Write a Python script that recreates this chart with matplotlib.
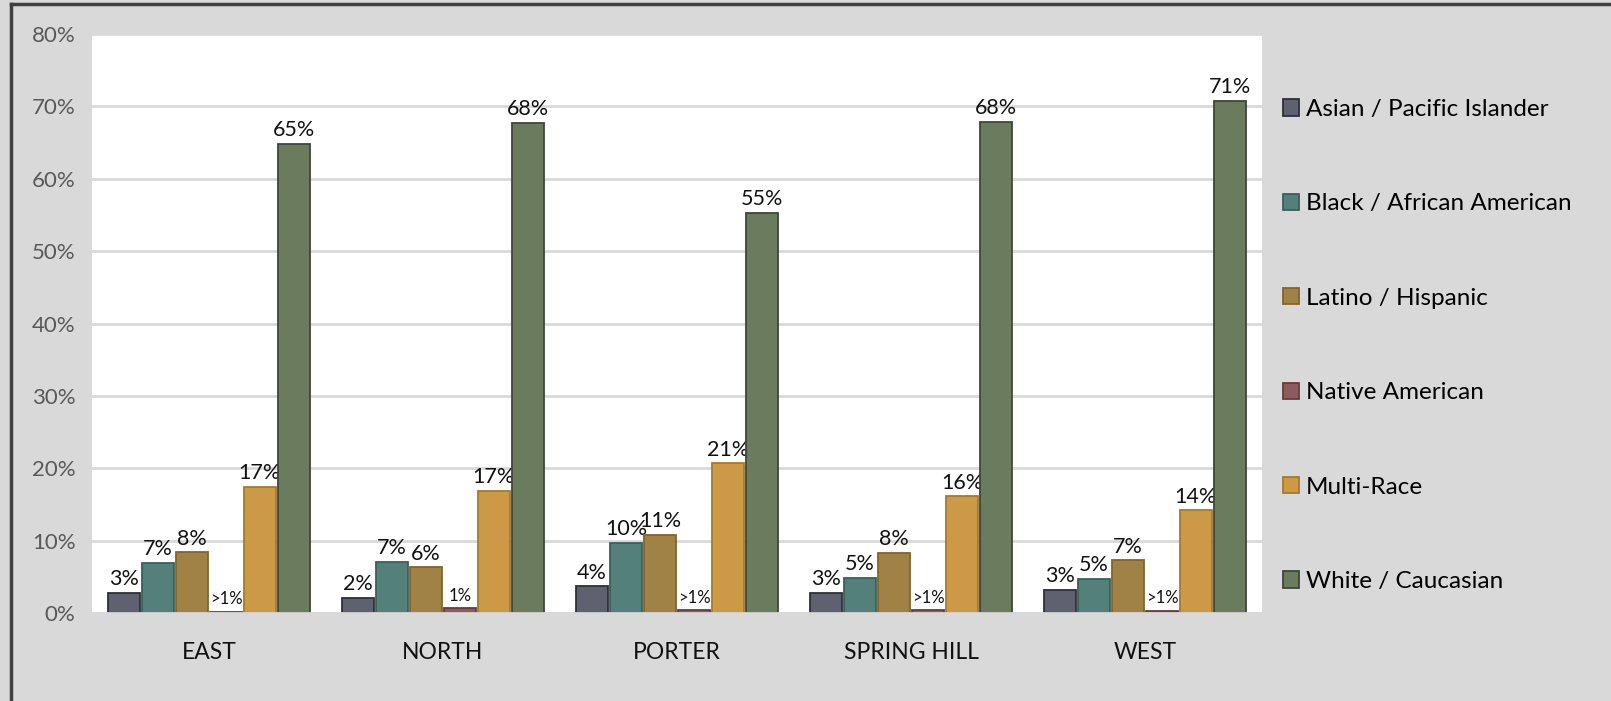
import matplotlib.pyplot as plt
import numpy as np
from matplotlib.lines import Line2D

# ------ dados

regioes = ["EAST", "NORTH", "PORTER", "SPRING HILL", "WEST"]
grupos = ["Asian / Pacific Islander", "Black / African American", "Latino / Hispanic",
          "Native American", "Multi-Race", "White / Caucasian"]

asian = [2.8, 2.1, 3.7, 2.8, 3.2]
black = [6.9, 7.1, 9.7, 4.9, 4.7]
latino = [8.4, 6.3, 10.8, 8.3, 7.3]
native = [0.2, 0.7, 0.4, 0.4, 0.3]
multi = [17.4, 16.9, 20.7, 16.1, 14.2]
white = [64.8, 67.7, 55.3, 67.9, 70.8]

rotulos_native = [">1%", "1%", ">1%", ">1%", ">1%"]

cores = ["#5f6070", "#538079", "#a08246", "#8e5a5d", "#cc9a47", "#6b7c5e"]
bordas = ["#2e2f38", "#3d5e59", "#826529", "#6a3b3e", "#a27a30", "#3e463a"]

series = [asian, black, latino, native, multi, white]

# ------ figura

plt.rcParams['font.family'] = ['Lato', 'DejaVu Sans']

fig = plt.figure(figsize=(16.11, 7.01), dpi=100, facecolor="#d9d9d9")
ax = fig.add_axes([92 / 1611, 1 - 613 / 701, (1262 - 92) / 1611, (613 - 34) / 701])
ax.set_facecolor("white")

x = np.arange(len(regioes))
largura = 0.145

for i, (vals, nome) in enumerate(zip(series, grupos)):
    pos = x + (i - 2.5) * largura
    ax.bar(pos, vals, width=largura - 0.006, color=cores[i], edgecolor=bordas[i],
           linewidth=1.3, label=nome, zorder=3)
    for j, v in enumerate(vals):
        if i == 3:
            txt = rotulos_native[j]
            ax.text(pos[j], v + 0.6, txt, ha="center", va="bottom", fontsize=12, color="#111111")
        else:
            ax.text(pos[j], v + 0.5, "%d%%" % round(v), ha="center", va="bottom",
                    fontsize=15.5, color="#111111")

ax.set_xlim(-0.5, len(regioes) - 0.5)
ax.set_ylim(0, 80)
ax.set_yticks(range(0, 81, 10))
ax.set_yticklabels(["%d%%" % t for t in range(0, 81, 10)], fontsize=16, color="#595959")
ax.set_xticks(x)
ax.set_xticklabels(regioes, fontsize=16.5, color="#111111")
ax.tick_params(length=0)
ax.tick_params(axis="y", pad=12)
ax.tick_params(axis="x", pad=21)
ax.grid(axis="y", color="#d9d9d9", linewidth=2, zorder=0)
for s in ax.spines.values():
    s.set_visible(False)
ax.axhline(0, color="#d9d9d9", linewidth=2, zorder=4)

ax.legend(loc="upper left", bbox_to_anchor=(1283 / 1611, 1 - 99 / 701),
          bbox_transform=fig.transFigure, frameon=False, fontsize=17.5,
          labelspacing=3.02, handlelength=0.65, handleheight=0.65, handletextpad=0.3,
          borderaxespad=0, borderpad=0)

# borda externa (só esquerda e topo)
fig.add_artist(Line2D([11 / 1611, 11 / 1611], [0, 1 - 4 / 701], transform=fig.transFigure,
                      color="#404040", linewidth=2.5))
fig.add_artist(Line2D([11 / 1611, 1], [1 - 4 / 701, 1 - 4 / 701], transform=fig.transFigure,
                      color="#404040", linewidth=2.5))

fig.savefig("out.png", dpi=100, facecolor=fig.get_facecolor())
